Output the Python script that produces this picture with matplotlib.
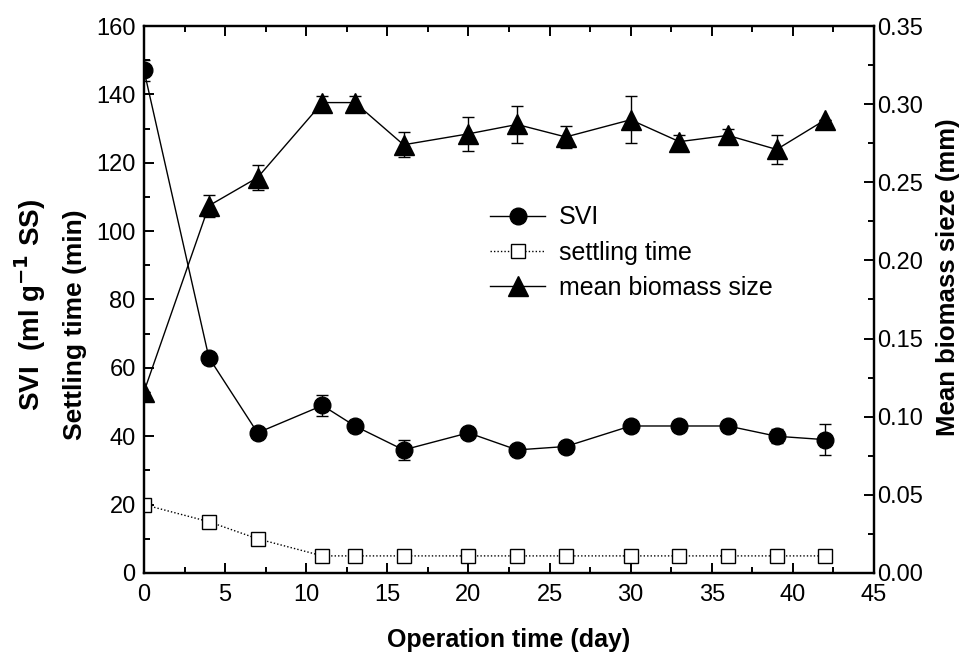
import matplotlib
matplotlib.use("Agg")
import matplotlib.pyplot as plt
from matplotlib.ticker import MultipleLocator, FormatStrFormatter
from matplotlib.lines import Line2D

plt.rcParams['font.family'] = ['Liberation Sans', 'DejaVu Sans']

# Operation days
days = [0, 4, 7, 11, 13, 16, 20, 23, 26, 30, 33, 36, 39, 42]

# Sludge volume index (ml/g SS) and standard deviation
svi = [147, 63, 41, 49, 43, 36, 41, 36, 37, 43, 43, 43, 40, 39]
svi_err = [3, 0, 0, 3, 0, 3, 0, 0, 0, 0, 0, 0, 2, 4.5]

# Settling time (min)
settling = [20, 15, 10, 5, 5, 5, 5, 5, 5, 5, 5, 5, 5, 5]

# Mean biomass size (mm) and standard deviation
size = [0.116, 0.235, 0.253, 0.301, 0.301, 0.274, 0.281, 0.287, 0.279,
        0.290, 0.276, 0.280, 0.271, 0.290]
size_err = [0, 0.007, 0.008, 0.004, 0.004, 0.008, 0.011, 0.012, 0.007,
            0.015, 0.004, 0.004, 0.0095, 0]

fig = plt.figure(figsize=(9.62, 6.55), dpi=100)
ax = fig.add_axes([0.1497, 0.1252, 0.7588, 0.8351])
ax2 = ax.twinx()

ax.errorbar(days, svi, yerr=svi_err, color='black', lw=1, marker='o',
            ms=12, mfc='black', mec='black', capsize=4, elinewidth=1,
            capthick=1, zorder=3)
ax.plot(days, settling, color='black', lw=1, ls=(0, (1, 1.5)), marker='s',
        ms=10, mfc='white', mec='black', mew=1, zorder=3)
ax2.errorbar(days, size, yerr=size_err, color='black', lw=1, marker='^',
             ms=14, mfc='black', mec='black', capsize=4, elinewidth=1,
             capthick=1, zorder=3)

ax.set_xlim(0, 45)
ax.set_ylim(0, 160)
ax2.set_ylim(0, 0.35)

ax.xaxis.set_major_locator(MultipleLocator(5))
ax.xaxis.set_minor_locator(MultipleLocator(2.5))
ax.yaxis.set_major_locator(MultipleLocator(20))
ax.yaxis.set_minor_locator(MultipleLocator(10))
ax2.yaxis.set_major_locator(MultipleLocator(0.05))
ax2.yaxis.set_minor_locator(MultipleLocator(0.025))
ax2.yaxis.set_major_formatter(FormatStrFormatter('%.2f'))

for a in (ax, ax2):
    for sp in a.spines.values():
        sp.set_linewidth(1.6)
ax.tick_params(axis='both', which='both', direction='in', top=True,
               labelsize=17, width=1.4)
ax.tick_params(axis='x', pad=8)
ax.tick_params(axis='y', pad=6)
ax.tick_params(which='major', length=7)
ax.tick_params(which='minor', length=4)
ax2.tick_params(axis='y', which='both', direction='in', labelsize=17,
                width=1.4, pad=2)
ax2.tick_params(which='major', length=7)
ax2.tick_params(which='minor', length=4)

ax.set_xlabel('Operation time (day)', fontsize=18, fontweight='bold',
              labelpad=16)
fig.text(0.031, 0.535, 'SVI  (ml g$^{\\mathbf{-1}}$ SS)', rotation=90,
         ha='center', va='center', fontsize=20, fontweight='bold')
fig.text(0.078, 0.505, 'Settling time (min)', rotation=90, ha='center',
         va='center', fontsize=19, fontweight='bold')
ax2.set_ylabel('Mean biomass sieze (mm)', fontsize=18.5, fontweight='bold')
ax2.yaxis.set_label_coords(1.085, 0.54)

handles = [
    Line2D([], [], color='black', lw=1, marker='o', ms=12, mfc='black'),
    Line2D([], [], color='black', lw=1, ls=(0, (1, 1.5)), marker='s', ms=10,
           mfc='white', mec='black'),
    Line2D([], [], color='black', lw=1, marker='^', ms=14, mfc='black'),
]
ax.legend(handles, ['SVI', 'settling time', 'mean biomass size'],
          loc='upper left', bbox_to_anchor=(0.474, 0.672), frameon=False,
          fontsize=18, handlelength=2.2, handletextpad=0.55,
          labelspacing=0.45, borderpad=0, borderaxespad=0)

fig.savefig('out.png', dpi=100)
